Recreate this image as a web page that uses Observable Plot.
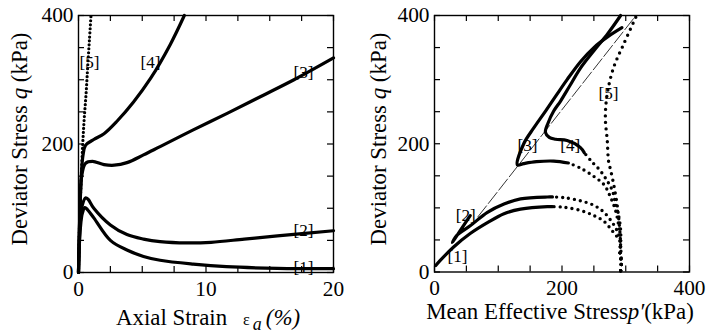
<!DOCTYPE html>
<html><head><meta charset="utf-8">
<script src="https://cdn.jsdelivr.net/npm/d3@7"></script>
<script src="https://cdn.jsdelivr.net/npm/@observablehq/plot@0.6"></script>
<style>
body{margin:0;background:#fff;}
#wrap{display:flex;width:718px;height:334px;}
svg{display:block;}
</style></head><body><div id="wrap"></div>
<script>
// ---------- Left panel: axial strain (%) vs deviator stress q (kPa) ----------
const left1 = [[0,0],[0.05,35],[0.15,70],[0.3,92],[0.5,101],[0.7,98],[1.2,85],[2.5,50],[3.8,35],[5.1,25],[6.4,19],[9,13],[11.6,9],[15.6,6.5],[20,6]];
const left2 = [[0,0],[0.05,40],[0.15,80],[0.3,105],[0.55,116],[0.75,114],[1.2,100],[2.5,74],[3.8,59],[5.1,52],[6.4,48],[8.5,46],[10.4,47],[13,52],[15.6,57],[20,65]];
const left3 = [[0,0],[0.05,50],[0.12,100],[0.25,150],[0.55,170],[1.1,173],[2.0,168],[2.8,167],[3.8,171],[5.1,183],[6.4,196],[9,222],[11.7,248],[14.3,274],[16.9,300],[20,334]];
const left4 = [[0,0],[0.05,50],[0.12,100],[0.22,150],[0.35,182],[0.55,198],[1.2,207],[2.0,216],[3.0,235],[4.3,265],[5.65,302],[7.2,355],[8.3,400]];
const left5 = [[0,0],[0.05,50],[0.12,100],[0.22,150],[0.33,200],[0.45,240],[0.6,280],[0.72,320],[0.85,360],[0.98,400]];
const leftLabelText = ["[1]","[2]","[3]","[4]","[5]"];
const leftLabelX = [17.65,17.65,17.65,5.65,0.86];
const leftLabelY = [8,65,312,327,327];
const leftXMinor = [0,2.5,5,7.5,10,12.5,15,17.5,20];
const leftXMajor = [0,10,20];

// ---------- Right panel: mean effective stress p' (kPa) vs q (kPa) ----------
const rightDot1 = [[292,2],[293,15],[291,30],[292,45],[287,54],[279,64],[266,79],[250,88],[229,96],[203,101],[185,102]];
const rightSolid1 = [[185,102],[177,102],[135,98],[109,91],[83,77],[56,60],[30,39],[9,18],[2,10]];
const rightDot2 = [[292,2],[293,15],[291,30],[292,45],[287,63],[279,77],[266,93],[250,104],[229,111],[203,116],[185,117]];
const rightSolid2 = [[185,117],[177,117],[135,114],[109,106],[83,93],[56,72],[35,57],[28,46],[40,64],[56,88]];
const rightDot3 = [[292,2],[293,15],[291,30],[292,50],[289,72],[284,96],[276,117],[266,136],[250,149],[229,162],[210,170]];
const rightSolid3 = [[210,170],[187,173],[160,172],[140,169],[130,167],[140,200],[156,225],[175,252],[192,277],[208,300],[229,328],[250,350],[272,367],[294,381]];
const rightDot4 = [[292,2],[293,15],[291,30],[292,50],[292,65],[289,87],[284,106],[279,127],[271,142],[260,158],[245,174],[235,186]];
const rightSolid4 = [[235,186],[229,194],[208,205],[190,207],[180,210],[174,218],[178,232],[187,251],[198,267],[212,290],[229,318],[250,345],[272,372],[292,400]];
const rightDot5 = [[292,2],[293,18],[292,40],[291,60],[287,101],[281,137],[276,160],[273,173],[271,205],[268,241],[271,278],[281,319],[297,356],[317,400]];
const cslP = [68,316];
const cslQ = [86,400];
const rightLabelText = ["[1]","[2]","[3]","[4]","[5]"];
const rightLabelX = [36,49,146,213,273];
const rightLabelY = [24,88,198,198,279];
const rightXMinor = [0,50,100,150,200,250,300,350,400];
const rightXMajor = [0,200,400];

const qMinor = [0,50,100,150,200,250,300,350,400];
const qMajor = [0,200,400];

// ---------- pick an installed serif face, size text to the reference widths ----------
const ctx = document.createElement("canvas").getContext("2d");
function width(str, family, size, style = "") {
  ctx.font = `${style} ${size}px ${family}`;
  return ctx.measureText(str).width;
}
function available(f) {
  const s = "Deviator Stress q (kPa) 0123456789";
  return ["monospace", "sans-serif", "serif"].some(g => width(s, g, 40) !== width(s, `"${f}", ${g}`, 40));
}
const family = ["Liberation Serif", "Times New Roman", "DejaVu Serif", "Noto Serif", "Liberation Sans Narrow", "Liberation Sans"].find(available);
const FONT = family ? `"${family}", serif` : "serif";
const fit = (str, target, lo, hi) => Math.max(lo, Math.min(hi, 40 * target / width(str, FONT, 40)));
const TICK = fit("400", 32, 15, 23);
const LABEL = fit("Deviator Stress q (kPa)", 213, 15, 23);
const TAG = fit("[5]", 20, 12, 18);

const H = 334;

function frameAxes(cfg, xMinor, xMajor) {
  const innerW = cfg.width - cfg.marginLeft - cfg.marginRight;
  const innerH = H - cfg.marginTop - cfg.marginBottom;
  const t = 6;
  return [
    Plot.frame({stroke: "black", strokeWidth: 1.4}),
    Plot.tickX(xMinor, {x: d => d, insetTop: innerH - t, strokeWidth: 1.2}),
    Plot.tickX(xMinor, {x: d => d, insetBottom: innerH - t, strokeWidth: 1.2}),
    Plot.tickY(qMinor, {y: d => d, insetRight: innerW - t, strokeWidth: 1.2}),
    Plot.tickY(qMinor, {y: d => d, insetLeft: innerW - t, strokeWidth: 1.2}),
    Plot.axisX(xMajor, {anchor: "bottom", tickSize: 0, tickPadding: 8, label: null, fontSize: TICK}),
    Plot.axisY(qMajor, {anchor: "left", tickSize: 0, tickPadding: 5, label: null, fontSize: TICK})
  ];
}

const solid = (data) => Plot.line(data, {x: d => d[0], y: d => d[1], stroke: "black", strokeWidth: 3.2, curve: "catmull-rom", strokeLinejoin: "round", strokeLinecap: "round"});
const dotted = (data, gap, w) => Plot.line(data, {x: d => d[0], y: d => d[1], stroke: "black", strokeWidth: w, strokeDasharray: `0 ${gap}`, strokeLinecap: "round", curve: "catmull-rom"});

// Left chart
const cfgL = {width: 359, marginLeft: 78, marginRight: 26, marginTop: 15, marginBottom: 62};
const leftPlot = Plot.plot({
  ...cfgL, height: H,
  x: {domain: [0, 20]},
  y: {domain: [0, 400]},
  style: {fontFamily: FONT, fontSize: `${TICK}px`, color: "black", background: "white", overflow: "visible"},
  marks: [
    ...frameAxes(cfgL, leftXMinor, leftXMajor),
    dotted(left5, 4, 3.2),
    solid(left1), solid(left2), solid(left3), solid(left4),
    Plot.text(leftLabelText, {x: leftLabelX, y: leftLabelY, text: d => d, fontSize: TAG})
  ]
});

// Right chart
const cfgR = {width: 359, marginLeft: 75, marginRight: 29, marginTop: 15, marginBottom: 62.5};
const rightPlot = Plot.plot({
  ...cfgR, height: H,
  x: {domain: [0, 400]},
  y: {domain: [0, 400]},
  style: {fontFamily: FONT, fontSize: `${TICK}px`, color: "black", background: "white", overflow: "visible"},
  marks: [
    ...frameAxes(cfgR, rightXMinor, rightXMajor),
    Plot.line(cslP.map((p, i) => [p, cslQ[i]]), {x: d => d[0], y: d => d[1], stroke: "black", strokeWidth: 0.8, strokeDasharray: "14 3"}),
    dotted(rightDot1, 6, 3.4), dotted(rightDot2, 6, 3.4), dotted(rightDot3, 6, 3.4), dotted(rightDot4, 6, 3.4), dotted(rightDot5, 6.5, 3.4),
    solid(rightSolid1), solid(rightSolid2), solid(rightSolid3), solid(rightSolid4),
    Plot.text(rightLabelText, {x: rightLabelX, y: rightLabelY, text: d => d, fontSize: TAG})
  ]
});

function addLabels(svg, xl, yl) {
  const s = d3.select(svg);
  const tx = s.append("text").attr("x", xl.x).attr("y", xl.y).attr("text-anchor", "middle")
    .attr("font-size", LABEL).attr("fill", "black");
  xl.parts.forEach(p => {
    const ts = tx.append("tspan").text(p.t);
    if (p.italic) ts.attr("font-style", "italic");
    if (p.size) ts.attr("font-size", p.size * LABEL);
    if (p.dy) ts.attr("dy", p.dy);
    if (p.dx) ts.attr("dx", p.dx);
  });
  const ty = s.append("text").attr("transform", `translate(${yl.x},${yl.y}) rotate(-90)`)
    .attr("text-anchor", "middle").attr("font-size", LABEL).attr("fill", "black");
  yl.parts.forEach(p => {
    const ts = ty.append("tspan").text(p.t);
    if (p.italic) ts.attr("font-style", "italic");
  });
  s.selectAll("text").style("font-family", FONT);
}

addLabels(leftPlot,
  {x: 208, y: 325, parts: [
    {t: "Axial Strain"},
    {t: "ε", size: 0.7, dx: 16},
    {t: "a", italic: true, size: 0.78, dx: 3, dy: 5},
    {t: "(%)", italic: true, dx: 4, dy: -5}
  ]},
  {x: 27, y: 139, parts: [{t: "Deviator Stress "}, {t: "q", italic: true}, {t: " (kPa)"}]}
);
addLabels(rightPlot,
  {x: 201, y: 319, parts: [
    {t: "Mean Effective Stress"},
    {t: "p′", italic: true},
    {t: "(kPa)"}
  ]},
  {x: 27, y: 139, parts: [{t: "Deviator Stress "}, {t: "q", italic: true}, {t: " (kPa)"}]}
);

const wrap = document.getElementById("wrap");
wrap.appendChild(leftPlot);
wrap.appendChild(rightPlot);
</script></body></html>
